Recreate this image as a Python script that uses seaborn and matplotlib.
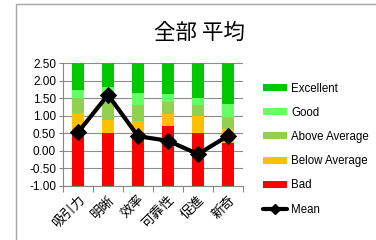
import numpy as np
import pandas as pd
import seaborn as sns
import matplotlib
matplotlib.use("Agg")
import matplotlib.pyplot as plt
from matplotlib.patches import Rectangle, Patch
from matplotlib.lines import Line2D

# ---- data ----
categories = ["吸引力", "明晰", "效率", "可靠性", "促進", "新奇"]
bad_top = [0.60, 0.51, 0.46, 0.70, 0.51, 0.23]
below_avg_top = [1.09, 0.89, 0.84, 1.06, 1.00, 0.63]
above_avg_top = [1.50, 1.45, 1.32, 1.40, 1.32, 0.97]
good_top = [1.74, 1.83, 1.65, 1.62, 1.50, 1.35]
excellent_top = [2.50, 2.50, 2.50, 2.50, 2.50, 2.50]
mean_values = [0.53, 1.60, 0.42, 0.29, -0.09, 0.43]
series_names = ["Excellent", "Good", "Above Average", "Below Average", "Bad"]
series_colors = ["#00C800", "#66FF66", "#92D050", "#FFC000", "#FF0000"]
y_ticks = [-1.0, -0.5, 0.0, 0.5, 1.0, 1.5, 2.0, 2.5]
base = -1.0
title = "全部 平均"

sns.set_theme(style="white")
plt.rcParams["font.family"] = ["Liberation Sans", "Noto Sans CJK JP", "DejaVu Sans"]
plt.rcParams["text.color"] = "black"
plt.rcParams["xtick.color"] = "black"
plt.rcParams["ytick.color"] = "black"

W, H = 376, 240
fig = plt.figure(figsize=(W / 100, H / 100), dpi=100)
fig.patch.set_facecolor("white")
ax = fig.add_axes([63 / W, 1 - 186 / H, 180 / W, (186 - 63.3) / H])

tops_list = [excellent_top, good_top, above_avg_top, below_avg_top, bad_top]
for tops, name, col in zip(tops_list, series_names, series_colors):
    heights = [t - base for t in tops]
    sns.barplot(x=categories, y=heights, order=categories, bottom=base,
                color=col, saturation=1, width=0.4, linewidth=0, ax=ax,
                errorbar=None)

sns.lineplot(x=np.arange(len(categories)), y=mean_values, color="black",
             linewidth=3, marker="D", markersize=8, markeredgecolor="black",
             ax=ax, zorder=5)

ax.set_xlim(-0.5, len(categories) - 0.5)
ax.set_ylim(-1.0, 2.5)
ax.set_yticks(y_ticks)
ax.set_yticklabels([f"{v:.2f}" for v in y_ticks], fontsize=8.5)
ax.set_xticks(range(len(categories)))
ax.set_xticklabels(categories, rotation=45, ha="right", rotation_mode="anchor",
                   fontsize=9.5, family=["Noto Sans CJK JP", "DejaVu Sans"])
ax.set_xticks(np.arange(-0.5, len(categories), 1.0), minor=True)
ax.tick_params(axis="x", which="major", length=0, pad=5)
ax.tick_params(axis="x", which="minor", length=4, color="#868686", width=0.8,
               direction="out", bottom=True)
ax.tick_params(axis="y", length=3, color="#868686", width=0.8, left=True,
               direction="out", pad=2)
ax.grid(axis="y", color="#8c8c8c", linewidth=0.8)
ax.set_axisbelow(True)
for s in ["top", "right"]:
    ax.spines[s].set_visible(False)
for s in ["left", "bottom"]:
    ax.spines[s].set_color("#868686")
    ax.spines[s].set_linewidth(0.8)
ax.set_xlabel("")
ax.set_ylabel("")

fig.text(199 / W, 1 - 33 / H, title, ha="center", va="center", fontsize=15.5,
         color="black", fontweight="normal",
         family=["Noto Sans CJK JP", "DejaVu Sans"])

handles = [Patch(facecolor=c, edgecolor="none") for c in series_colors]
handles.append(Line2D([0], [0], color="black", linewidth=3, marker="D",
                      markersize=5))
labels = series_names + ["Mean"]
fig.legend(handles, labels, loc="upper left",
           bbox_to_anchor=(258 / W, 1 - 78 / H), frameon=False, fontsize=8.3,
           labelspacing=1.06, handlelength=2.15, handleheight=0.55,
           handletextpad=0.35, borderaxespad=0)

fig.patches.append(Rectangle((16 / W, -0.1), 2, 1.1 - 4 / H,
                             transform=fig.transFigure, fill=False,
                             edgecolor="#a6a6a6", linewidth=1))

fig.savefig("out.png", dpi=100)
